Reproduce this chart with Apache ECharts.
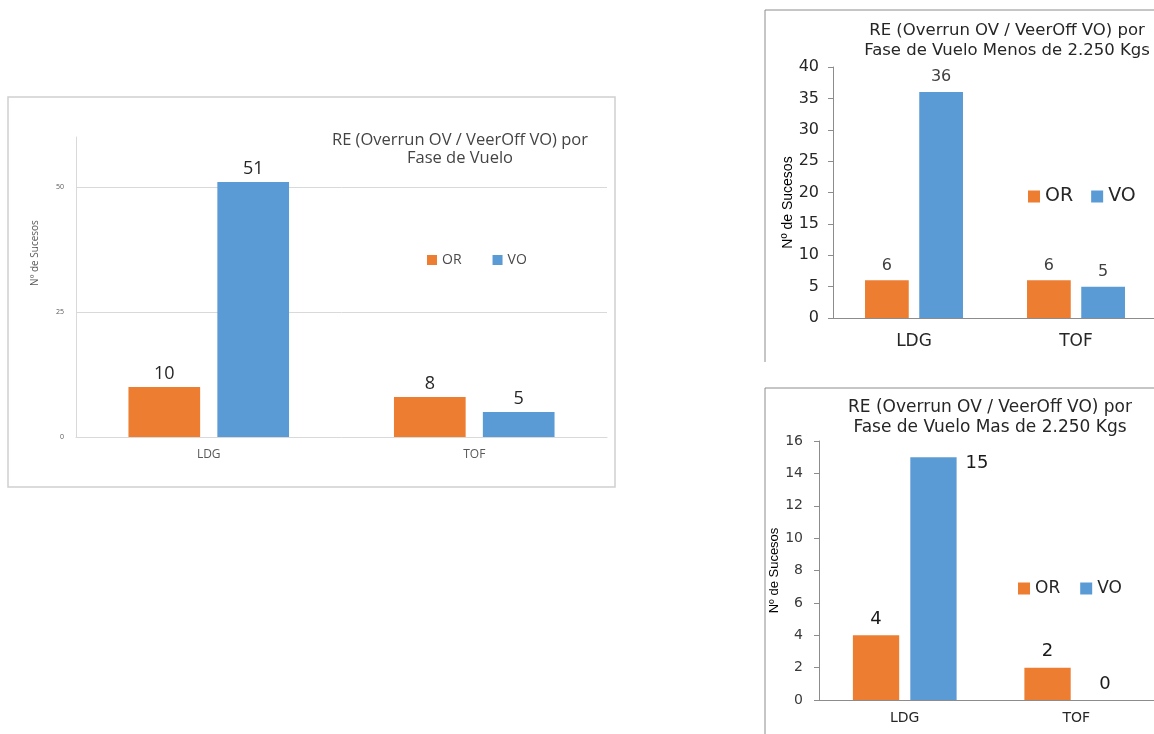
<!DOCTYPE html>
<html>
<head>
<meta charset="utf-8">
<script src="https://cdn.jsdelivr.net/npm/echarts@6/dist/echarts.min.js"></script>
<style>
html,body{margin:0;padding:0;background:#fff;overflow:hidden;}
#c{width:1170px;height:734px;}
</style>
</head>
<body>
<div id="c"></div>
<script>
// ---- data ----
const categories = ['LDG', 'TOF'];
const seriesNames = ['OR', 'VO'];
const totalOR = [10, 8];
const totalVO = [51, 5];
const lightOR = [6, 6];
const lightVO = [36, 5];
const heavyOR = [4, 2];
const heavyVO = [15, 0];
const totalTicks = {min: 0, max: 60, interval: 25};
const lightTicks = {min: 0, max: 40, interval: 5};
const heavyTicks = {min: 0, max: 16, interval: 2};
const titles = [
  'RE (Overrun OV / VeerOff VO) por\nFase de Vuelo',
  'RE (Overrun OV / VeerOff VO) por\nFase de Vuelo Menos de 2.250 Kgs',
  'RE (Overrun OV / VeerOff VO) por\nFase de Vuelo Mas de 2.250 Kgs'
];
const yName = 'Nº de Sucesos';

const ORANGE = '#ED7D31', BLUE = '#5B9BD5';
const W = 1170;
const chart = echarts.init(document.getElementById('c'));

const narrow = '"Liberation Sans Narrow", "Liberation Sans", sans-serif';
const dv = '"DejaVu Sans", sans-serif';
const os = '"Open Sans", sans-serif';

function barSeries(name, data, idx, color, lbl) {
  return {
    type: 'bar', name: name, data: data,
    xAxisIndex: idx, yAxisIndex: idx,
    barWidth: '27%', barGap: '24%',
    itemStyle: {color: color},
    label: Object.assign({show: true, position: 'top'}, lbl)
  };
}

const heavyVOData = heavyVO.map((v, i) => i === 0 ? {
  value: v,
  label: {position: ['100%', 0], align: 'left', verticalAlign: 'top', offset: [9, -3]}
} : v);

const option = {
  animation: false,
  backgroundColor: '#fff',
  title: [
    {text: titles[0], left: 455, top: 126, textAlign: 'center',
     textStyle: {fontFamily: os, fontSize: 16.5, fontWeight: 'normal', color: '#444', lineHeight: 18}},
    {text: titles[1], left: 1002, top: 16, textAlign: 'center',
     textStyle: {fontFamily: dv, fontSize: 16.5, fontWeight: 'normal', color: '#262626', lineHeight: 20}},
    {text: titles[2], left: 985, top: 393, textAlign: 'center',
     textStyle: {fontFamily: dv, fontSize: 17, fontWeight: 'normal', color: '#262626', lineHeight: 20}}
  ],
  legend: [
    {data: seriesNames, left: 422, top: 248, itemWidth: 10, itemHeight: 10, itemGap: 31, icon: 'rect',
     textStyle: {fontFamily: os, fontSize: 14, color: '#4a4a4a'}},
    {data: seriesNames, left: 1023, top: 182, itemWidth: 12, itemHeight: 12, itemGap: 18, icon: 'rect',
     textStyle: {fontFamily: dv, fontSize: 19, color: '#262626'}},
    {data: seriesNames, left: 1013, top: 575, itemWidth: 12, itemHeight: 12, itemGap: 20, icon: 'rect',
     textStyle: {fontFamily: dv, fontSize: 17, color: '#262626'}}
  ],
  grid: [
    {left: 76, top: 137, right: W - 607, bottom: 734 - 437},
    {left: 833, top: 67, right: W - 1157, bottom: 734 - 318},
    {left: 819, top: 441, right: W - 1162, bottom: 734 - 700}
  ],
  xAxis: [
    {type: 'category', gridIndex: 0, data: categories,
     axisLine: {lineStyle: {color: '#d9d9d9'}}, axisTick: {length: 3, lineStyle: {color: '#d9d9d9'}},
     axisLabel: {fontFamily: os, fontSize: 12, color: '#595959', margin: 12}},
    {type: 'category', gridIndex: 1, data: categories,
     axisLine: {lineStyle: {color: '#8c8c8c'}}, axisTick: {length: 6, lineStyle: {color: '#8c8c8c'}},
     axisLabel: {fontFamily: dv, fontSize: 17, color: '#262626', margin: 15}},
    {type: 'category', gridIndex: 2, data: categories,
     axisLine: {lineStyle: {color: '#8c8c8c'}}, axisTick: {length: 5, lineStyle: {color: '#8c8c8c'}},
     axisLabel: {fontFamily: dv, fontSize: 14, color: '#262626', margin: 11}}
  ],
  yAxis: [
    Object.assign({type: 'value', gridIndex: 0, name: yName, nameLocation: 'middle', nameGap: 36,
     nameTextStyle: {fontFamily: os, fontSize: 10, color: '#595959', padding: [0, 0, 0, 68]},
     axisLine: {show: true, lineStyle: {color: '#d9d9d9'}}, axisTick: {show: false},
     splitLine: {show: true, showMinLine: false, showMaxLine: false, lineStyle: {color: '#d9d9d9'}},
     axisLabel: {fontFamily: os, fontSize: 7, color: '#595959', margin: 12, showMaxLabel: false}}, totalTicks),
    Object.assign({type: 'value', gridIndex: 1, name: yName, nameLocation: 'middle', nameGap: 38,
     nameTextStyle: {fontFamily: narrow, fontSize: 14, color: '#000', padding: [0, 20, 0, 0]},
     axisLine: {show: true, lineStyle: {color: '#8c8c8c'}}, axisTick: {show: true, length: 5, lineStyle: {color: '#8c8c8c'}},
     splitLine: {show: false},
     axisLabel: {fontFamily: dv, fontSize: 16, color: '#262626', margin: 14}}, lightTicks),
    Object.assign({type: 'value', gridIndex: 2, name: yName, nameLocation: 'middle', nameGap: 33,
     nameTextStyle: {fontFamily: narrow, fontSize: 13, color: '#000'},
     axisLine: {show: true, lineStyle: {color: '#8c8c8c'}}, axisTick: {show: true, length: 5, lineStyle: {color: '#8c8c8c'}},
     splitLine: {show: false},
     axisLabel: {fontFamily: dv, fontSize: 14, color: '#3a3a3a', margin: 16}}, heavyTicks)
  ],
  series: [
    barSeries('OR', totalOR, 0, ORANGE, {fontFamily: os, fontSize: 18, color: '#262626', distance: 4}),
    barSeries('VO', totalVO, 0, BLUE, {fontFamily: os, fontSize: 18, color: '#262626', distance: 4}),
    barSeries('OR', lightOR, 1, ORANGE, {fontFamily: dv, fontSize: 16, color: '#404040', distance: 7}),
    barSeries('VO', lightVO, 1, BLUE, {fontFamily: dv, fontSize: 16, color: '#404040', distance: 7}),
    barSeries('OR', heavyOR, 2, ORANGE, {fontFamily: dv, fontSize: 18, color: '#1a1a1a', distance: 7}),
    barSeries('VO', heavyVOData, 2, BLUE, {fontFamily: dv, fontSize: 18, color: '#1a1a1a', distance: 7})
  ],
  graphic: [
    {type: 'rect', shape: {x: 8, y: 97, width: 607, height: 390}, style: {fill: 'none', stroke: '#d0d0d0', lineWidth: 1.5}, silent: true},
    {type: 'polyline', shape: {points: [[765, 362], [765, 10], [1170, 10]]}, style: {fill: 'none', stroke: '#8c8c8c', lineWidth: 1}, silent: true},
    {type: 'polyline', shape: {points: [[765, 734], [765, 388], [1170, 388]]}, style: {fill: 'none', stroke: '#8c8c8c', lineWidth: 1}, silent: true}
  ]
};
chart.setOption(option);
</script>
</body>
</html>
